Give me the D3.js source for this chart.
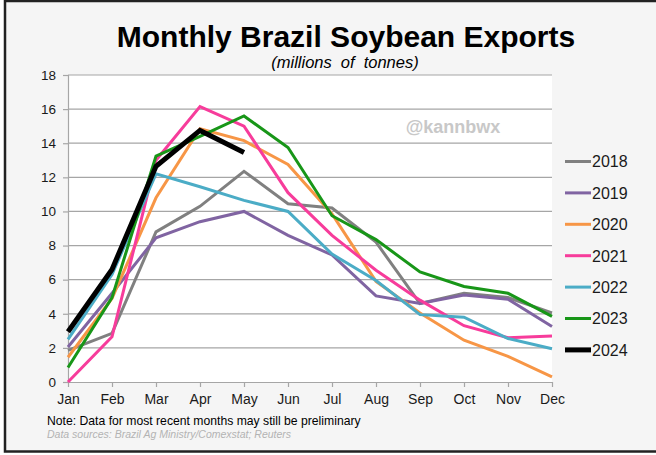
<!DOCTYPE html>
<html><head><meta charset="utf-8">
<script src="https://cdn.jsdelivr.net/npm/d3@7"></script>
<style>
html,body{margin:0;padding:0;background:#fff;}
svg{display:block;font-family:Arial,"Liberation Sans",sans-serif;}
</style></head>
<body>
<svg id="c" width="656" height="455"></svg>
<script>
const months = ["Jan","Feb","Mar","Apr","May","Jun","Jul","Aug","Sep","Oct","Nov","Dec"];
const yTicks = [0,2,4,6,8,10,12,14,16,18];
const years = ["2018","2019","2020","2021","2022","2023","2024"];
const colors = ["#808080","#8064a2","#f79646","#f73c9b","#4bacc6","#189618","#000000"];
const v2018 = [1.85, 2.85, 8.8, 10.3, 12.35, 10.45, 10.2, 8.2, 4.6, 5.2, 4.95, 4.05];
const v2019 = [2.05, 5.2, 8.45, 9.4, 10.0, 8.6, 7.45, 5.05, 4.6, 5.1, 4.85, 3.25];
const v2020 = [1.45, 4.9, 10.8, 14.85, 14.15, 12.75, 9.85, 5.9, 4.05, 2.45, 1.5, 0.3];
const v2021 = [0.0, 2.65, 13.0, 16.15, 15.0, 11.1, 8.6, 6.55, 4.8, 3.3, 2.6, 2.7];
const v2022 = [2.5, 6.3, 12.2, 11.45, 10.65, 10.0, 7.5, 5.95, 3.95, 3.8, 2.55, 1.95];
const v2023 = [0.85, 4.95, 13.25, 14.4, 15.6, 13.75, 9.75, 8.35, 6.45, 5.6, 5.2, 3.85];
const v2024 = [2.95, 6.6, 12.65, 14.75, 13.45];
const seriesValues = [v2018, v2019, v2020, v2021, v2022, v2023, v2024];

(function(){
const svg = d3.select("#c");
svg.append("rect").attr("x",0).attr("y",0).attr("width",656).attr("height",455).attr("fill","#fff");
svg.append("rect").attr("x",5).attr("y",1).attr("width",660).attr("height",450.5)
  .attr("fill","#f5f5f5").attr("stroke","#222").attr("stroke-width",2.5);

const pL = 68, pR = 552, pT = 75, pB = 382;
const x = d3.scalePoint().domain(months).range([pL, pR]);
const y = d3.scaleLinear().domain([0,18]).range([pB, pT]);

svg.append("rect").attr("x",pL).attr("y",pT).attr("width",pR-pL).attr("height",pB-pT).attr("fill","#fff");

svg.append("g").selectAll("line").data(yTicks.filter(d=>d>0)).join("line")
  .attr("x1",pL).attr("x2",pR).attr("y1",d=>y(d)).attr("y2",d=>y(d))
  .attr("stroke","#a6a6a6").attr("stroke-width",1.2);

const ya = svg.append("g").attr("transform",`translate(${pL},0)`)
  .call(d3.axisLeft(y).tickValues(yTicks).tickSize(5).tickPadding(7));
ya.select(".domain").attr("stroke","#a6a6a6").attr("stroke-width",1.2);
ya.selectAll(".tick line").attr("stroke","#a6a6a6").attr("stroke-width",1.2);
ya.selectAll("text").attr("font-size",13.5).attr("fill","#1a1a1a").attr("font-family","Arial,'Liberation Sans',sans-serif");

const xa = svg.append("g").attr("transform",`translate(0,${pB})`)
  .call(d3.axisBottom(x).tickSize(5).tickSizeOuter(0).tickPadding(7));
xa.select(".domain").attr("stroke","#a6a6a6").attr("stroke-width",1.2);
xa.selectAll(".tick line").attr("stroke","#a6a6a6").attr("stroke-width",1.2);
xa.selectAll("text").attr("font-size",14).attr("fill","#1a1a1a").attr("font-family","Arial,'Liberation Sans',sans-serif");

svg.append("text").attr("x",453).attr("y",133).attr("text-anchor","middle")
  .attr("font-size",18).attr("font-weight","bold").attr("fill","#c8c8c8").text("@kannbwx");

const line = d3.line().x((d,i)=>x(months[i])).y(d=>y(d));
svg.append("g").selectAll("path").data(seriesValues).join("path")
  .attr("d",d=>line(d)).attr("fill","none")
  .attr("stroke",(d,i)=>colors[i]).attr("stroke-width",(d,i)=>i===6?5:3)
  .attr("stroke-linejoin","miter");

const lg = svg.append("g");
years.forEach((yr,i)=>{
  const cy = 161.5 + i*31.4;
  lg.append("line").attr("x1",565).attr("x2",591).attr("y1",cy).attr("y2",cy)
    .attr("stroke",colors[i]).attr("stroke-width",i===6?5:3);
  lg.append("text").attr("x",592).attr("y",cy+5.8).attr("font-size",16).attr("fill","#1a1a1a").text(yr);
});

svg.append("text").attr("x",346).attr("y",46.5).attr("text-anchor","middle")
  .attr("font-size",30).attr("font-weight","bold").attr("fill","#000").text("Monthly Brazil Soybean Exports");
svg.append("text").attr("x",345).attr("y",67.5).attr("text-anchor","middle")
  .attr("font-size",16.5).attr("font-style","italic").attr("word-spacing",4.5).attr("fill","#000").text("(millions of tonnes)");

svg.append("text").attr("x",47).attr("y",425).attr("font-size",12.2).attr("fill","#000")
  .text("Note: Data for most recent months may still be preliminary");
svg.append("text").attr("x",47).attr("y",437.5).attr("font-size",10.5).attr("font-style","italic").attr("fill","#b3b3b3")
  .text("Data sources: Brazil Ag Ministry/Comexstat; Reuters");
})();
</script>
</body></html>
